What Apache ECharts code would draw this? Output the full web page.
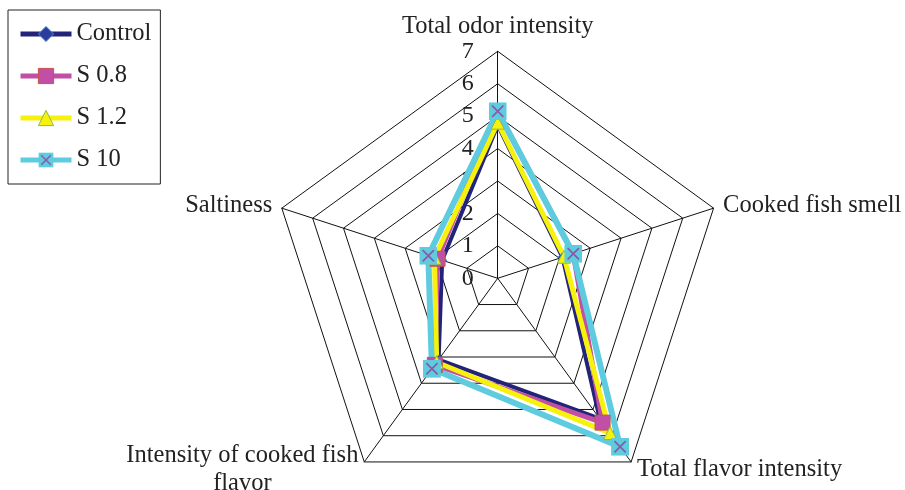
<!DOCTYPE html>
<html>
<head>
<meta charset="utf-8">
<script src="https://cdn.jsdelivr.net/npm/echarts@6/dist/echarts.min.js"></script>
<style>html,body{margin:0;padding:0;background:#fff}#c{width:905px;height:490px}</style>
</head>
<body>
<div id="c"></div>
<script>
// Indicators listed counter-clockwise from the top
const indicators = ['Total odor intensity', 'Saltiness', 'Intensity of cooked fish flavor', 'Total flavor intensity', 'Cooked fish smell'];
const maxValue = 7;
const seriesNames = ['Control', 'S 0.8', 'S 1.2', 'S 10'];
const control = [4.72, 1.8, 3.1, 5.35, 2.1];
const s08 = [5.15, 1.95, 3.3, 5.5, 2.45];
const s12 = [4.8, 2.05, 3.2, 5.9, 2.15];
const s10 = [5.15, 2.25, 3.45, 6.42, 2.45];
const values = [control, s08, s12, s10];

const FONT = 'Liberation Serif';
const xSvg = '<svg xmlns="http://www.w3.org/2000/svg" width="32" height="32"><rect x="0" y="0" width="32" height="32" fill="#5ecbde"/><path d="M6 6L26 26M26 6L6 26" stroke="#8a5aa6" stroke-width="3"/></svg>';
const xSymbol = 'image://data:image/svg+xml;utf8,' + encodeURIComponent(xSvg);

const styles = [
  {line: '#23237a', width: 4, symbol: 'diamond', size: 9, fill: '#2b3d9c', border: '#4f8ad6', bw: 1},
  {line: '#c24fa6', width: 5, symbol: 'rect', size: 15, fill: '#c24fa6', border: '#c9504f', bw: 1},
  {line: '#f7f20c', width: 5, symbol: 'triangle', size: 13, fill: '#f7f20c', border: '#8fb84f', bw: 1},
  {line: '#5ecbde', width: 6, symbol: xSymbol, size: 18, fill: '#5ecbde', border: '#5ecbde', bw: 0}
];

const chart = echarts.init(document.getElementById('c'), null, {renderer: 'canvas'});

const legendSeries = seriesNames.map((n, i) => ({
  type: 'line', name: n, data: [], symbol: styles[i].symbol, symbolSize: styles[i].size,
  lineStyle: {color: styles[i].line, width: styles[i].width},
  itemStyle: {color: styles[i].fill, borderColor: styles[i].border, borderWidth: styles[i].bw}
}));

const radarSeries = {
  type: 'radar',
  z: 3,
  data: values.map((v, i) => ({
    name: seriesNames[i], value: v,
    symbol: styles[i].symbol, symbolSize: styles[i].size,
    lineStyle: {color: styles[i].line, width: styles[i].width, opacity: 1},
    itemStyle: {color: styles[i].fill, borderColor: styles[i].border, borderWidth: styles[i].bw}
  }))
};

chart.setOption({
  backgroundColor: '#fff',
  animation: false,
  grid: {show: false},
  xAxis: {show: false, type: 'category', data: []},
  yAxis: {show: false},
  legend: {
    left: 8, top: 10, orient: 'vertical',
    padding: [10, 9, 10, 10],
    itemWidth: 51, itemHeight: 19, itemGap: 14,
    borderColor: '#222', borderWidth: 1,
    selectedMode: false,
    textStyle: {fontFamily: FONT, fontSize: 24.5, color: '#222', lineHeight: 28},
    data: seriesNames.map((n, i) => ({
      name: n,
      lineStyle: {color: styles[i].line, width: 5},
      itemStyle: {color: styles[i].fill, borderColor: styles[i].border, borderWidth: styles[i].bw}
    }))
  },
  radar: {
    center: [497.7, 278.3],
    radius: 227,
    startAngle: 90,
    shape: 'polygon',
    splitNumber: 7,
    nameGap: 10,
    axisName: {
      fontFamily: FONT, fontSize: 24.5, color: '#222',
      rich: {c: {align: 'center', fontFamily: FONT, fontSize: 24.5, color: '#222', lineHeight: 28}}
    },
    axisLine: {lineStyle: {color: '#111', width: 1}},
    splitLine: {lineStyle: {color: '#111', width: 1}},
    splitArea: {show: false},
    axisTick: {show: false},
    axisLabel: {show: false},
    indicator: indicators.map((n, i) => {
      const o = {name: n, min: 0, max: maxValue};
      if (i === 0) {
        o.axisLabel = {show: true, fontFamily: FONT, fontSize: 24, color: '#222', margin: 24};
      }
      if (n === 'Intensity of cooked fish flavor') {
        o.name = '{c|Intensity of cooked fish}\n{c|flavor}';
      }
      return o;
    })
  },
  series: legendSeries.concat([radarSeries])
});
</script>
</body>
</html>
